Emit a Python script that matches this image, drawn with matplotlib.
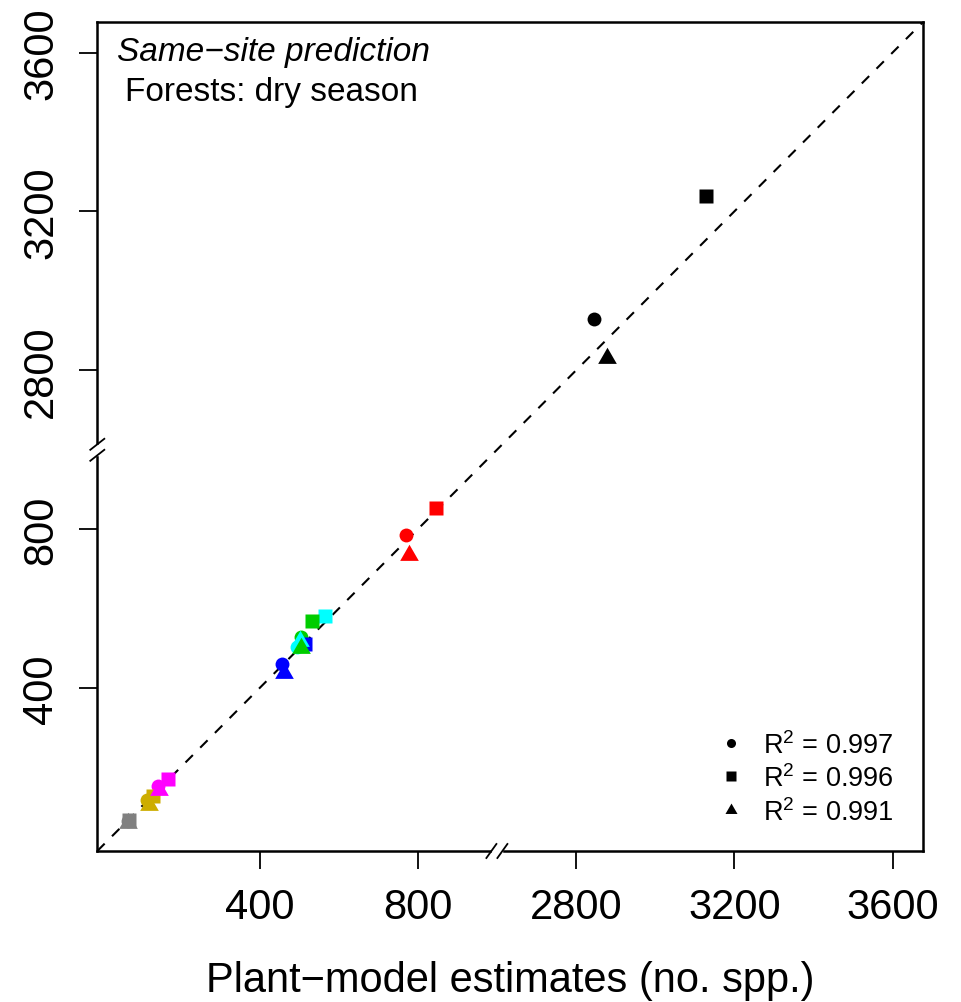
import numpy as np
import matplotlib
matplotlib.use("Agg")
import matplotlib.pyplot as plt
from matplotlib.lines import Line2D
from matplotlib.patches import Rectangle
from matplotlib.transforms import IdentityTransform

plt.rcParams['font.family'] = ['Liberation Sans', 'DejaVu Sans']
plt.rcParams['mathtext.fontset'] = 'custom'
plt.rcParams['mathtext.rm'] = 'Liberation Sans'
plt.rcParams['mathtext.it'] = 'Liberation Sans:italic'

# one entry per site, same order in every list
colors = ['#808080', '#CDAD00', '#FF00FF', '#0000FF', '#00FFFF', '#00CD00', '#FF0000', '#000000']
circ_x = [68, 115, 144, 456, 494, 504, 770, 2846]
circ_y = [66, 118, 154, 462, 503, 530, 786, 2929]
sq_x = [70, 131, 169, 515, 565, 532, 846, 3128]
sq_y = [68, 128, 171, 511, 581, 570, 853, 3239]
tri_x = [67, 121, 147, 462, 502, 506, 778, 2879]
tri_y = [61, 105, 144, 438, 519, 501, 734, 2831]

r2_labels = ['0.997', '0.996', '0.991']
tick_vals = [400, 800, 2800, 3200, 3600]

BREAK_LO, BREAK_HI = 1000, 2600   # hidden span of the axis
GAP = BREAK_HI - BREAK_LO
LIM = (-10, 2077)


def squeeze(v):
    v = np.asarray(v, dtype=float)
    return np.where(v > BREAK_LO, v - GAP, v)


# R-style filled triangle (pch 17)
tri_marker = [(-1.3468, -0.7776), (1.3468, -0.7776), (0.0, 1.555)]

W, H = 961, 1003
fig = plt.figure(figsize=(W / 100, H / 100), dpi=100)
ax = fig.add_axes([97.3 / W, 1 - 852 / H, (923 - 97.3) / W, (852 - 23) / H])
ax.set_xlim(LIM)
ax.set_ylim(LIM)

ax.plot(LIM, LIM, ls=(0, (5, 5)), color='black', lw=1.5, zorder=1)

for xs, ys, mk, ms in [(circ_x, circ_y, 'o', 10),
                       (sq_x, sq_y, 's', 10),
                       (tri_x, tri_y, tri_marker, 15.5)]:
    for x, y, c in zip(squeeze(xs), squeeze(ys), colors):
        ax.plot(x, y, marker=mk, ms=ms, color=c, mec='none', ls='none', zorder=3)

ticks = squeeze(tick_vals)
ax.set_xticks(ticks)
ax.set_xticklabels([str(t) for t in tick_vals])
ax.set_yticks(ticks)
ax.set_yticklabels([str(t) for t in tick_vals], rotation=90, va='center')
ax.tick_params(axis='both', length=13, width=1.3, labelsize=30, color='black')
ax.tick_params(axis='x', pad=13)
ax.tick_params(axis='y', pad=13)
for s in ax.spines.values():
    s.set_linewidth(1.8)

ax.set_xlabel('Plant\u2212model estimates (no. spp.)', fontsize=30, labelpad=24)

# axis breaks
fig.canvas.draw()
bx, by0 = ax.transData.transform((BREAK_LO, LIM[0]))
bx0, by = ax.transData.transform((LIM[0], BREAK_LO))
ident = IdentityTransform()
ax.add_artist(Rectangle((bx - 5, by0 - 3), 10, 6, transform=ident, color='white',
                        zorder=5, clip_on=False))
ax.add_artist(Rectangle((bx0 - 3, by - 5), 6, 10, transform=ident, color='white',
                        zorder=5, clip_on=False))
for d in (-5.5, 5.5):
    ax.add_artist(Line2D([bx + d - 5, bx + d + 5], [by0 - 7, by0 + 7], transform=ident,
                         color='black', lw=1.3, zorder=6, clip_on=False))
    ax.add_artist(Line2D([bx0 - 7, bx0 + 7], [by + d - 5.5, by + d + 5.5], transform=ident,
                         color='black', lw=1.3, zorder=6, clip_on=False))

# annotations
fig.text(117 / W, 1 - 52 / H, 'Same\u2212site prediction', fontsize=24, style='italic',
         ha='left', va='center')
fig.text(125 / W, 1 - 93 / H, 'Forests: dry season', fontsize=24, ha='left', va='center')

leg_y = [744, 777, 811]
leg_mk = [('o', 6.5), ('s', 6.5), (tri_marker, 10)]
for (mk, ms), yy, lab in zip(leg_mk, leg_y, r2_labels):
    fig.add_artist(Line2D([731], [H - yy], marker=mk, ms=ms, color='black', mec='none',
                          transform=ident))
    fig.text(763 / W, 1 - (yy + 2) / H, 'R$^2$ = ' + lab, fontsize=19.5, ha='left', va='center')

fig.savefig('out.png', dpi=100)
